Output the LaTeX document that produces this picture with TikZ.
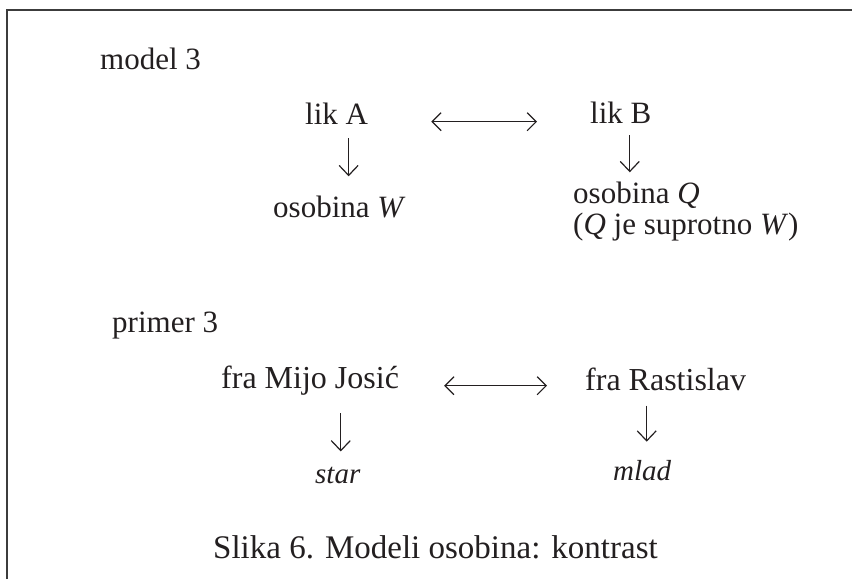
\documentclass[tikz,border=0pt]{standalone}
\usepackage{fontspec}
\setmainfont{Liberation Serif}
\usetikzlibrary{arrows.meta}
\definecolor{ink}{HTML}{231F20}
\definecolor{framegray}{HTML}{3C3C3C}

\begin{document}
\begin{tikzpicture}[
    x=1pt, y=-1pt,
    lbl/.style={inner sep=0pt, anchor=base west, text=ink, font=\fontsize{31}{31}\selectfont},
    frabox/.style={lbl, font=\fontsize{32}{32}\selectfont},
    trait/.style={lbl, font=\fontsize{29}{29}\selectfont\itshape},
    capt/.style={lbl, font=\fontsize{33}{33}\selectfont},
    contrast/.style={draw=ink, line width=1.2pt, {Straight Barb[length=9pt,width=18pt]}-{Straight Barb[length=9pt,width=18pt]}},
    fall/.style={draw=ink, line width=1.2pt, -{Straight Barb[length=10pt,width=19pt]}}
]
\useasboundingbox (0,0) rectangle (852,579);

% okvir (vidi se samo gornji i lijevi rub)
\draw[framegray, line width=2pt] (7,579) -- (7,10) -- (852,10);

% model 3
\node[lbl] (model) at (100,69) {model 3};
\node[lbl] (likA) at (305,124) {lik A};
\node[lbl] (likB) at (590,123) {lik B};
\node[lbl] (osobW) at (273,217) {osobina \textit{W}};
\node[lbl] (osobQ) at (573,203) {osobina \textit{Q}};
\node[lbl] (opis) at (573,234) {(\textit{Q} je suprotno \textit{W})};

% primer 3
\node[lbl] (primer) at (112,332) {primer 3};
\node[frabox] (mijo) at (221,388) {fra Mijo Josić};
\node[frabox] (rast) at (585,390) {fra Rastislav};
\node[trait] (star) at (315,483) {star};
\node[trait] (mlad) at (613,480) {mlad};

% potpis
\node[capt] (slika) at (213,558) {Slika 6. Modeli osobina: kontrast};

% strelice: kontrast
\draw[contrast, shorten <=63pt, shorten >=53pt] (likA.mid east) -- (likA.mid east -| likB.west);
\draw[contrast, shorten <=45pt, shorten >=38pt] (mijo.mid east) -- (mijo.mid east -| rast.west);

% strelice: osobine
\draw[fall, shorten <=14pt, shorten >=19pt] ([xshift=12pt]likA.south) -- ([xshift=12pt]likA.south |- osobW.north);
\draw[fall, shorten <=12pt, shorten >=9pt] ([xshift=9pt]likB.south) -- ([xshift=9pt]likB.south |- osobQ.north);
\draw[fall, shorten <=18pt, shorten >=15pt] ([xshift=3pt]star.north |- mijo.south) -- ([xshift=3pt]star.north);
\draw[fall, shorten <=15pt, shorten >=18pt] ([xshift=4.5pt]mlad.north |- rast.south) -- ([xshift=4.5pt]mlad.north);

\end{tikzpicture}
\end{document}
